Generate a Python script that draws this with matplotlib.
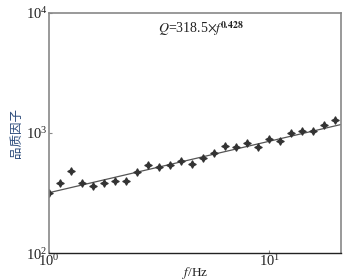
import numpy as np
import matplotlib
matplotlib.use("Agg")
import matplotlib.pyplot as plt
from matplotlib.ticker import LogLocator, NullLocator

# frequency (Hz) and measured quality factor
freq = [1.000, 1.122, 1.259, 1.413, 1.585, 1.778, 1.995, 2.239, 2.512, 2.818,
        3.162, 3.548, 3.981, 4.467, 5.012, 5.623, 6.310, 7.079, 7.943, 8.913,
        10.00, 11.22, 12.59, 14.13, 15.85, 17.78, 19.95]
q_vals = [314, 385, 482, 381, 364, 381, 400, 400, 476, 538,
          518, 541, 584, 552, 615, 688, 779, 769, 830, 764,
          883, 858, 995, 1033, 1033, 1172, 1276]

# fit Q = Q0 * f^eta
q0 = 318.5
eta = 0.428

plt.rcParams['font.family'] = ['Liberation Serif', 'Noto Sans CJK SC']
plt.rcParams['mathtext.fontset'] = 'stix'

fig = plt.figure(figsize=(3.48, 2.80), dpi=100)
ax = fig.add_axes([0.141, 0.096, 0.839, 0.858])

f_fit = np.logspace(0, np.log10(21.2), 50)
ax.plot(f_fit, q0 * f_fit ** eta, color='#555555', lw=0.9)
ax.plot(freq, q_vals, linestyle='none', marker=(4, 1, 0), markersize=5.5,
        color='#333333', markeredgewidth=0.8)

ax.set_xscale('log')
ax.set_yscale('log')
ax.set_xlim(1, 21.2)
ax.set_ylim(100, 10000)
ax.xaxis.set_major_locator(LogLocator(base=10, numticks=5))
ax.yaxis.set_major_locator(LogLocator(base=10, numticks=5))
ax.xaxis.set_minor_locator(NullLocator())
ax.yaxis.set_minor_locator(NullLocator())
ax.tick_params(direction='in', length=2.5, width=0.8, labelsize=10.5,
               colors='#888888', labelcolor='#222222')
ax.tick_params(axis='x', pad=0)
ax.tick_params(axis='y', pad=1)

for side in ['left', 'top', 'right']:
    ax.spines[side].set_color('#888888')
    ax.spines[side].set_linewidth(1.2)
ax.spines['bottom'].set_color('#222222')
ax.spines['bottom'].set_linewidth(1.0)

ax.set_xlabel(r'$f$/Hz', fontsize=9.5, labelpad=-3, color='#222222')
ax.set_ylabel('品质因子', fontsize=9, color='#2b4a7a',
              family=['Noto Sans CJK SC'], labelpad=2)

ax.text(0.52, 0.935, r'$Q$=318.5$\times$$f$$^{\mathbf{0.428}}$', transform=ax.transAxes,
        ha='center', va='center', fontsize=10, color='#222222')

fig.savefig('out.png', dpi=100)
